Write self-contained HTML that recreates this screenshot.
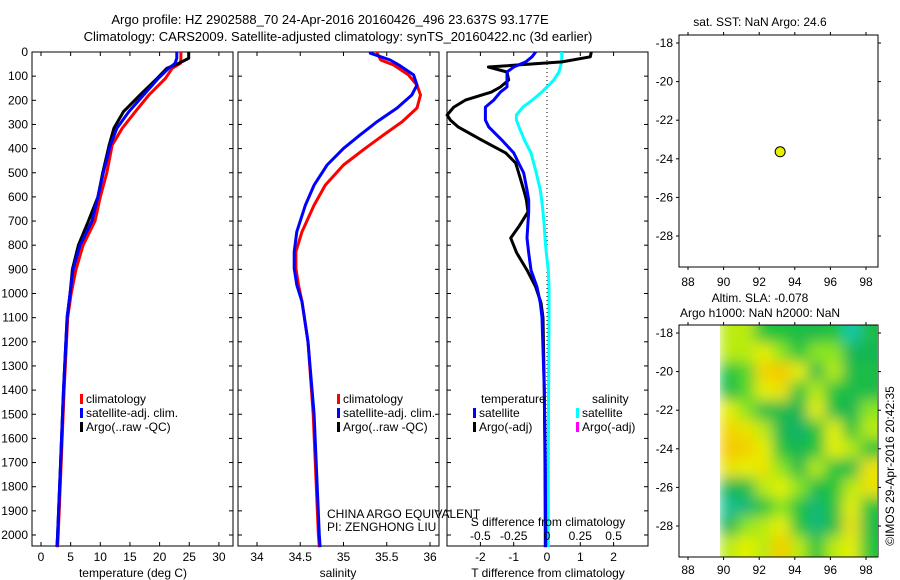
<!DOCTYPE html>
<html><head><meta charset="utf-8">
<style>
html,body{margin:0;padding:0;background:#fff;}
svg{display:block;font-family:"Liberation Sans",sans-serif;}
text{font-size:12px;fill:#000;}
</style></head>
<body>
<svg id="fig" width="900" height="580" viewBox="0 0 900 580" xmlns="http://www.w3.org/2000/svg">
<defs>
<filter id="blur" x="0" y="0" width="1" height="1"><feGaussianBlur stdDeviation="7"/></filter>
<clipPath id="slaclip"><rect x="720" y="325" width="157" height="232"/></clipPath>
</defs>
<text x="330" y="24" text-anchor="middle" style="font-size:13px">Argo profile: HZ 2902588_70 24-Apr-2016 20160426_496 23.637S 93.177E</text>
<text x="338" y="41" text-anchor="middle" style="font-size:13px">Climatology: CARS2009. Satellite-adjusted climatology: synTS_20160422.nc (3d earlier)</text>
<g id="g"></g>
</svg>
<script>
// ---------- data ----------
const depthT = [0,26,47,68,109,178,247,316,385,500,600,700,800,900,1000,1100,1400,1700,2000,2050];
const tempClim = [23.6,23.6,23.5,22.1,21.0,18.2,15.9,13.7,12.0,11.1,10.0,9.1,7.1,5.9,5.1,4.5,3.9,3.4,2.9,2.8];
const tempSat  = [22.9,22.9,22.6,21.5,19.8,17.3,14.8,12.8,11.7,10.5,9.6,8.6,6.6,5.4,4.9,4.4,3.8,3.3,2.8,2.7];
const tempArgo = [24.9,24.9,23.2,21.2,19.6,16.7,13.9,12.3,11.5,10.4,9.6,8.0,6.3,5.3,4.9,4.4,3.8,3.3,2.8,2.7];
const depthS = [0,5,33,54,95,137,178,232,288,344,399,468,551,634,744,827,896,965,1034,1200,1500,2000,2050];
const salClim = [35.39,35.39,35.43,35.58,35.75,35.85,35.89,35.85,35.68,35.46,35.25,35.00,34.79,34.66,34.52,34.45,34.45,34.48,34.52,34.59,34.65,34.71,34.72];
const salSat  = [35.31,35.31,35.54,35.64,35.81,35.85,35.79,35.62,35.39,35.19,35.00,34.81,34.66,34.56,34.46,34.43,34.43,34.46,34.52,34.59,34.66,34.72,34.73];
const depthD = [0,20,41,62,83,116,145,166,199,228,261,282,310,364,418,460,501,571,613,662,724,770,832,903,973,1039,1100,1400,1700,2000,2050];
const dTArgo = [1.33,1.3,0.45,-1.76,-1.2,-1.15,-1.4,-1.67,-2.45,-2.8,-3.0,-2.9,-2.67,-1.97,-1.24,-0.94,-0.85,-0.7,-0.62,-0.57,-0.85,-1.09,-0.91,-0.6,-0.34,-0.18,-0.12,-0.08,-0.06,-0.05,-0.05];
const dTSat  = [-0.34,-0.45,-0.64,-1.0,-1.2,-1.2,-1.2,-1.4,-1.6,-1.85,-1.85,-1.85,-1.75,-1.36,-1.0,-0.85,-0.7,-0.6,-0.55,-0.55,-0.58,-0.6,-0.55,-0.48,-0.3,-0.2,-0.15,-0.08,-0.05,-0.04,-0.04];
const dSSat  = [0.11,0.11,0.11,0.1,0.09,0.05,0.0,-0.04,-0.11,-0.18,-0.23,-0.23,-0.21,-0.17,-0.12,-0.1,-0.08,-0.05,-0.04,-0.03,-0.02,-0.015,-0.005,0.01,0.015,0.015,0.015,0.012,0.01,0.01,0.01];
const tempTicks = [0,5,10,15,20,25,30];
const salTicks = [34,34.5,35,35.5,36];
const dTTicks = [-2,-1,0,1,2];
const dSTicks = ["-0.5","-0.25","0","0.25","0.5"];
const depthTicks = [0,100,200,300,400,500,600,700,800,900,1000,1100,1200,1300,1400,1500,1600,1700,1800,1900,2000];
const lonTicks = [88,90,92,94,96,98];
const latTicks = [-18,-20,-22,-24,-26,-28];
const floatLon = [93.177];
const floatLat = [-23.637];
const slaLons = [90.5,91.5,92.5,93.5,94.5,95.5,96.5,97.5,98.5];
const slaLats = [-18,-19,-20,-21,-22,-23,-24,-25,-26,-27,-28,-29];
const slaGrid = [
 [0.3,0.3,0.0,0.0,-0.1,-0.1,0.0,-0.6,-0.1],
 [0.3,0.3,0.4,0.2,0.0,0.2,0.2,-0.2,-0.2],
 [0.0,0.1,0.6,0.7,0.4,-0.1,0.3,-0.1,-0.1],
 [-0.1,0.1,0.4,0.5,0.0,0.3,0.0,-0.1,-0.1],
 [0.4,0.2,-0.1,-0.1,-0.2,0.4,-0.1,-0.2,0.2],
 [0.6,0.5,0.3,-0.2,-0.35,0.0,0.4,0.0,0.3],
 [0.7,0.65,0.4,0.0,-0.2,0.0,0.4,0.3,0.0],
 [0.5,0.4,0.5,0.2,-0.1,0.3,0.0,-0.1,0.5],
 [-0.2,-0.1,0.3,0.4,0.2,-0.1,0.0,0.3,0.5],
 [-0.5,-0.4,0.0,0.2,0.0,-0.4,0.0,0.4,0.0],
 [-0.2,0.2,0.3,0.4,0.0,-0.4,-0.1,0.5,-0.1],
 [0.3,0.4,0.3,0.65,0.3,0.0,0.3,0.4,0.0]
];

// ---------- helpers ----------
const NS = "http://www.w3.org/2000/svg";
const G = document.getElementById('g');
function mk(tag, attrs, parent){ const e=document.createElementNS(NS,tag); for(const k in attrs) e.setAttribute(k,attrs[k]); (parent||G).appendChild(e); return e; }
function txt(x,y,s,anchor,parent){ const t=mk('text',{x:x,y:y,'text-anchor':anchor||'middle'},parent); t.textContent=s; return t; }

const TOP=52, BOT=546;
const yD = d => TOP + d*0.2415;
const xT = v => 41 + v*5.93;
const xS = v => 257 + (v-34)*86.5;
const xDT = v => 547 + v*33.3;
const xDS = v => 547 + v*133.2;

function panel(x0,x1,name){
  const r = mk('rect',{x:x0,y:TOP,width:x1-x0,height:BOT-TOP,fill:'none',stroke:'#000','stroke-width':1});
  
  
  depthTicks.forEach(d=>{
    const y=yD(d);
    const l1=mk('line',{x1:x0,x2:x0+4,y1:y,y2:y,stroke:'#000'});
    
    
    const l2=mk('line',{x1:x1,x2:x1-4,y1:y,y2:y,stroke:'#000'});
    
    
  });
}
function xticks(vals, fx, labelY, showLabels, name){
  vals.forEach(v=>{
    const x=fx(+v);
    const a=mk('line',{x1:x,x2:x,y1:BOT,y2:BOT-4,stroke:'#000'});
    
    
    const b=mk('line',{x1:x,x2:x,y1:TOP,y2:TOP+4,stroke:'#000'});
    
    
    if(showLabels){
      const t=txt(x,labelY,String(v));
      
      
    }
  });
}
function series(depths, vals, fx, color, w, name){
  const d = depths.map((dd,i)=>(i?'L':'M')+fx(vals[i]).toFixed(1)+','+yD(dd).toFixed(1)).join('');
  const p = mk('path',{d:d,fill:'none',stroke:color,'stroke-width':w,'stroke-linejoin':'round'});
  
  
}
function legendEntry(x,y,color,label,name){
  const r=mk('rect',{x:x,y:y-9,width:3,height:10,fill:color});
  
  
  const t=txt(x+6,y,label,'start');
  
  
}

// ---------- panel 1: temperature ----------
panel(32,233,'temperature-panel');
depthTicks.forEach(d=>{
  const t=txt(28,yD(d)+4,String(d),'end');
  
  
});
xticks(tempTicks, xT, 561, true, 'temperature-tick-label');
series(depthT,tempClim,xT,'#ff0000',3,'temperature-climatology-line');
series(depthT,tempArgo,xT,'#000000',3,'temperature-argo-line');
series(depthT,tempSat,xT,'#0000ff',3,'temperature-satellite-line');
let t1=txt(133,577,'temperature (deg C)');  
legendEntry(80,403,'#ff0000','climatology','legend-climatology');
legendEntry(80,417,'#0000ff','satellite-adj. clim.','legend-satellite');
legendEntry(80,431,'#000000','Argo(..raw -QC)','legend-argo');

// ---------- panel 2: salinity ----------
panel(238,439,'salinity-panel');
xticks(salTicks, xS, 561, true, 'salinity-tick-label');
series(depthS,salClim,xS,'#ff0000',3,'salinity-climatology-line');
series(depthS,salSat,xS,'#0000ff',3,'salinity-satellite-line');
let t2=txt(338,577,'salinity');  
legendEntry(337,403,'#ff0000','climatology','legend-climatology');
legendEntry(337,417,'#0000ff','satellite-adj. clim.','legend-satellite');
legendEntry(337,431,'#000000','Argo(..raw -QC)','legend-argo');
let t3=txt(327,518,'CHINA ARGO EQUIVALENT','start');  
let t4=txt(327,531,'PI: ZENGHONG LIU','start');  

// ---------- panel 3: differences ----------
panel(447,648,'difference-panel');
xticks(dTTicks, xDT, 561, true, 't-diff-tick-label');
const zl=mk('line',{x1:547,x2:547,y1:TOP,y2:BOT,stroke:'#000','stroke-dasharray':'1,3'});


series(depthD,dSSat,xDS,'#00ffff',3,'salinity-diff-satellite-line');
series(depthD,dTArgo,xDT,'#000000',3,'temperature-diff-argo-line');
series(depthD,dTSat,xDT,'#0000ff',3,'temperature-diff-satellite-line');
dSTicks.forEach(v=>{
  const t=txt(xDS(+v),540,v);
  
  
});
let t5=txt(548,526,'S difference from climatology');  
let t6=txt(548,577,'T difference from climatology');  
let t7=txt(481,403,'temperature','start');  
let t8=txt(592,403,'salinity','start');  
legendEntry(473,417,'#0000ff','satellite','legend-t-satellite');
legendEntry(473,431,'#000000','Argo(-adj)','legend-t-argo');
legendEntry(576,417,'#00ffff','satellite','legend-s-satellite');
legendEntry(576,431,'#ff00ff','Argo(-adj)','legend-s-argo');

// ---------- maps ----------
function mapFrame(top,bottom,lat18,lat28,labelY,name){
  const lx = v => 688 + (v-88)*17.8;
  const ly = v => lat18 + (-18 - v)*(lat28-lat18)/10;
  const r=mk('rect',{x:679,y:top,width:199,height:bottom-top,fill:'none',stroke:'#000'});
  
  
  lonTicks.forEach(v=>{
    const x=lx(v);
    const a=mk('line',{x1:x,x2:x,y1:top,y2:top-3,stroke:'#000'});  
    const b=mk('line',{x1:x,x2:x,y1:bottom,y2:bottom+3,stroke:'#000'});  
    const t=txt(x,labelY,String(v));  
  });
  latTicks.forEach(v=>{
    const y=ly(v);
    const a=mk('line',{x1:679,x2:676,y1:y,y2:y,stroke:'#000'});  
    const b=mk('line',{x1:878,x2:881,y1:y,y2:y,stroke:'#000'});  
    const t=txt(673,y+4,String(v),'end');  
  });
  return {lx,ly};
}
// SST map
const m1 = mapFrame(35,267,43,236,286,'sst-map');
let t9=txt(760,26,'sat. SST: NaN Argo: 24.6');  
floatLon.forEach((v,i)=>{
  const c=mk('circle',{cx:m1.lx(v),cy:m1.ly(floatLat[i]),r:5,fill:'#e6f000',stroke:'#000','stroke-width':1});
  
  
});
// SLA map
function slaColor(v){
  const stops=[[-0.6,[25,200,170]],[-0.3,[20,175,95]],[0,[30,195,60]],[0.2,[140,230,30]],[0.4,[230,240,0]],[0.7,[245,200,0]]];
  if(v<=stops[0][0]) return 'rgb('+stops[0][1]+')';
  for(let i=1;i<stops.length;i++){ if(v<=stops[i][0]){ const a=stops[i-1],b=stops[i],f=(v-a[0])/(b[0]-a[0]); return 'rgb('+a[1].map((c,k)=>Math.round(c+(b[1][k]-c)*f)).join(',')+')'; } }
  return 'rgb('+stops[stops.length-1][1]+')';
}
const m2lx = v => 685 + (v-88)*17.5;
const m2ly = v => 333 + (-18 - v)*19.3;
const clipG = mk('g',{'clip-path':'url(#slaclip)'});
const heat = mk('g',{filter:'url(#blur)'},clipG);
slaLats.forEach((la,ri)=>{
  slaLons.forEach((lo,ci)=>{
    const x0=m2lx(lo-0.5), x1=m2lx(lo+0.5)+(ci===slaLons.length-1?20:0);
    const y0=m2ly(la+0.5)-(ri===0?20:0), y1=m2ly(la-0.5)+(ri===slaLats.length-1?20:0);
    const r=mk('rect',{x:x0,y:y0,width:x1-x0+0.5,height:y1-y0+0.5,fill:slaColor(slaGrid[ri][ci])},heat);
    
    
  });
});
mapFrame(325,557,333,526,574,'sla-map');
let t10=txt(760,302,'Altim. SLA: -0.078');  
let t11=txt(760,317,'Argo h1000: NaN h2000: NaN');  
let t12=txt(0,0,'\u00A9IMOS 29-Apr-2016 20:42:35');
t12.setAttribute('transform','translate(894,466) rotate(-90)');


</script>
</body></html>
